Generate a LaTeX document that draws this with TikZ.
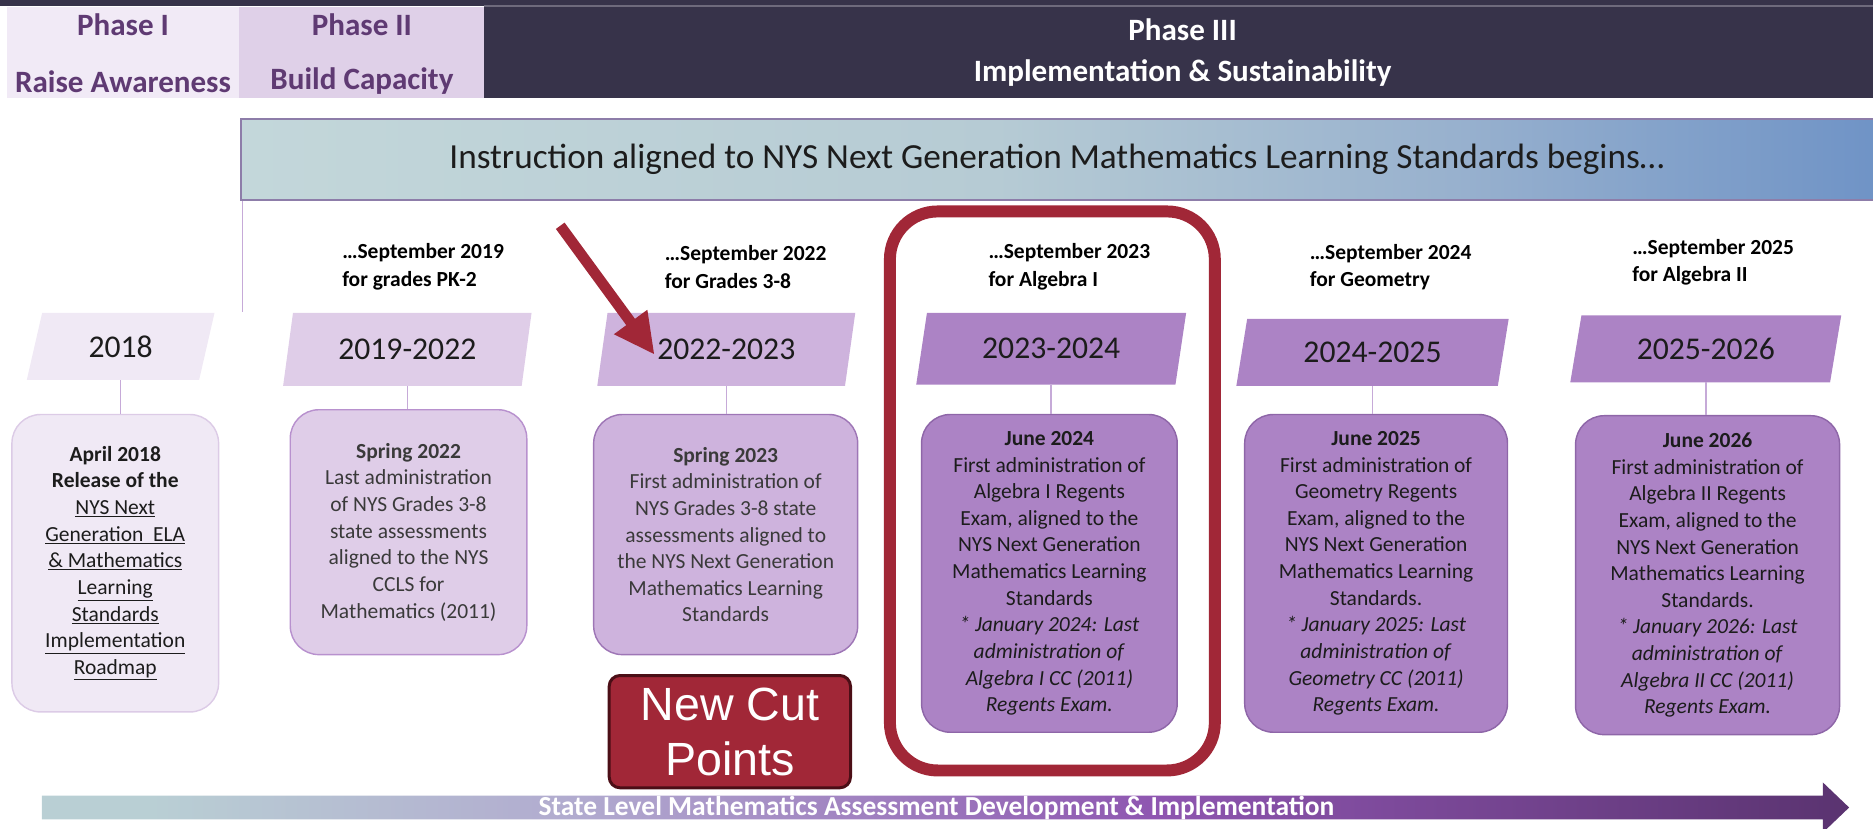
\documentclass[tikz,border=0pt]{standalone}
\usepackage{fontspec}
\setmainfont{Carlito}
\newfontfamily\cutfont{Liberation Sans}
\usetikzlibrary{shapes.geometric,arrows.meta}

\definecolor{hdrdark}{HTML}{37334A}
\definecolor{hdrline}{HTML}{6E6A7C}
\definecolor{phaseone}{HTML}{F1EAF6}
\definecolor{phasetwo}{HTML}{DFD0E8}
\definecolor{phasetxt}{HTML}{5F3A73}
\definecolor{instrA}{HTML}{C3D7DA}
\definecolor{instrB}{HTML}{B6CBD4}
\definecolor{instrM}{HTML}{98B1CE}
\definecolor{instrC}{HTML}{6F93C6}
\definecolor{instrline}{HTML}{8D7DA9}
\definecolor{yrA}{HTML}{F0E9F5}
\definecolor{yrB}{HTML}{DFCDE8}
\definecolor{yrC}{HTML}{CEB3DD}
\definecolor{yrD}{HTML}{AC83C5}
\definecolor{edgeA}{HTML}{DCCBE6}
\definecolor{edgeB}{HTML}{B891CE}
\definecolor{edgeC}{HTML}{9E76B6}
\definecolor{edgeD}{HTML}{8E66A8}
\definecolor{linkcol}{HTML}{C6AAD8}
\definecolor{cutred}{HTML}{A12737}
\definecolor{cutdark}{HTML}{4B0E16}
\definecolor{txtgrey}{HTML}{3A3A3A}
\definecolor{txtdark}{HTML}{1C1C1C}
\definecolor{barA}{HTML}{B9CFD4}
\definecolor{barB}{HTML}{B1AACF}
\definecolor{barC}{HTML}{8E55B0}
\definecolor{barD}{HTML}{5A3370}

\pgfdeclarehorizontalshading{instrshade}{100bp}{color(0bp)=(instrA); color(25bp)=(instrA); color(48bp)=(instrB); color(62bp)=(instrM); color(75bp)=(instrC); color(100bp)=(instrC)}
\pgfdeclarehorizontalshading{barshade}{100bp}{color(0bp)=(barA); color(28bp)=(barA); color(40bp)=(barB); color(56bp)=(barC); color(75bp)=(barD); color(100bp)=(barD)}

\begin{document}
\begin{tikzpicture}[x=1pt,y=-1pt,
    phasehd/.style={font=\bfseries\fontsize{26}{29}\selectfont},
    yearbox/.style={trapezium, trapezium left angle=74, trapezium right angle=106,
        trapezium stretches=true, inner sep=0pt, text=txtdark,
        font=\fontsize{26.5}{30}\selectfont},
    eventbox/.style={rounded corners=24pt, align=center, line width=1.2pt,
        inner sep=0pt, text=txtdark, font=\fontsize{18}{22.3}\selectfont},
    startlbl/.style={anchor=west, align=left, text=black,
        font=\bfseries\fontsize{18}{23}\selectfont},
    link/.style={linkcol, line width=1.3pt}]
    \useasboundingbox (0,0) rectangle (1568,694);

    % phases
    \fill[hdrdark] (0,0) rectangle (1568,5);
    \fill[hdrdark] (405,0) rectangle (1568,82);
    \draw[hdrline, line width=1pt] (405,5) -- (1568,5);
    \fill[phaseone] (6,6) rectangle (200,82);
    \fill[phasetwo] (200,6) rectangle (405,82);
    \node[phasehd, text=phasetxt] (ph1) at (103,21) {Phase I};
    \node[phasehd, text=phasetxt] (ph1b) at (103,68) {Raise Awareness};
    \node[phasehd, text=phasetxt] (ph2) at (303,21) {Phase II};
    \node[phasehd, text=phasetxt] (ph2b) at (303,68) {Build Capacity};
    \node[phasehd, text=white] (ph3) at (990,25) {Phase III};
    \node[phasehd, text=white] (ph3b) at (990,61) {Implementation \& Sustainability};

    % instruction bar
    \node[shade, shading=instrshade, draw=instrline, line width=1.5pt, anchor=north west,
        minimum width=1372pt, minimum height=68pt, inner sep=0pt, text=txtdark,
        font=\fontsize{29.5}{32}\selectfont] (instr) at (201,99)
        {\hspace*{-6pt}Instruction aligned to NYS Next Generation Mathematics Learning Standards begins…};
    \coordinate (tickend) at (203,261);
    \draw[link] (tickend |- instr.south) -- (tickend);

    % start of instruction
    \node[startlbl] (s2) at (283,223.5) {…September 2019\\for grades PK-2};
    \node[startlbl] (s3) at (553,223.5) {…September 2022\\for Grades 3-8};
    \node[startlbl] (s4) at (824,223.5) {…September 2023\\for Algebra I};
    \node[startlbl] (s5) at (1093,223.5) {…September 2024\\for Geometry};
    \node[startlbl] (s6) at (1363,219.5) {…September 2025\\for Algebra II};

    % school years
    \foreach \nm/\x/\y/\w/\h/\fc/\yr in {p1/101/290/158/56/yrA/2018,
        p2/341/292.5/208/61/yrB/2019-2022, p3/608/292.5/216/61/yrC/2022-2023,
        p4/880/292/226/60/yrD/2023-2024, p5/1149/295/228/56/yrD/2024-2025,
        p6/1428/292/227/56/yrD/2025-2026}
        \node[yearbox, fill=\fc, minimum width=\w pt, minimum height=\h pt] (\nm) at (\x,\y) {\yr};

    % events
    \node[eventbox, fill=yrA, draw=edgeA, minimum width=173pt, minimum height=249pt] (b1) at (96.5,471.5)
        {\textbf{April 2018}\\\textbf{Release of the}\\\underline{NYS Next}\\\underline{Generation\ \ ELA}\\
        \underline{\& Mathematics}\\\underline{Learning}\\\underline{Standards}\\\underline{Implementation}\\\underline{Roadmap}};
    \node[eventbox, fill=yrB, draw=edgeB, text=txtgrey, minimum width=198pt, minimum height=205pt] (b2) at (342,445.5)
        {\textbf{Spring 2022}\\Last administration\\of NYS Grades 3-8\\state assessments\\aligned to the NYS\\CCLS for\\Mathematics (2011)};
    \node[eventbox, fill=yrC, draw=edgeC, text=txtgrey, minimum width=221pt, minimum height=201pt] (b3) at (607.5,447.5)
        {\textbf{Spring 2023}\\First administration of\\NYS Grades 3-8 state\\assessments aligned to\\the NYS Next Generation\\Mathematics Learning\\Standards};
    \node[eventbox, fill=yrD, draw=edgeD, minimum width=214pt, minimum height=266pt] (b4) at (878.5,480)
        {\textbf{June 2024}\\First administration of\\Algebra I Regents\\Exam, aligned to the\\NYS Next Generation\\Mathematics Learning\\Standards\\
        \textit{* January 2024: Last}\\\textit{administration of}\\\textit{Algebra I CC (2011)}\\\textit{Regents Exam.}};
    \node[eventbox, fill=yrD, draw=edgeD, minimum width=220pt, minimum height=266pt] (b5) at (1152,480)
        {\textbf{June 2025}\\First administration of\\Geometry Regents\\Exam, aligned to the\\NYS Next Generation\\Mathematics Learning\\Standards.\\
        \textit{* January 2025: Last}\\\textit{administration of}\\\textit{Geometry CC (2011)}\\\textit{Regents Exam.}};
    \node[eventbox, fill=yrD, draw=edgeD, minimum width=221pt, minimum height=267pt] (b6) at (1429.5,481.5)
        {\textbf{June 2026}\\First administration of\\Algebra II Regents\\Exam, aligned to the\\NYS Next Generation\\Mathematics Learning\\Standards.\\
        \textit{* January 2026: Last}\\\textit{administration of}\\\textit{Algebra II CC (2011)}\\\textit{Regents Exam.}};

    \foreach \i in {1,...,6}
        \draw[link] (p\i.south) -- (p\i.south |- b\i.north);

    % highlight
    \node[draw=cutred, line width=10pt, rounded corners=40pt, minimum width=272pt,
        minimum height=468pt, inner sep=0pt] (focus) at (881,411) {};
    \coordinate (cuttail) at (469,189);
    \coordinate (cuttip) at (548,297);
    \draw[cutred, line width=9pt, -{Triangle[length=34pt,width=32pt]}] (cuttail) -- (cuttip);
    \node[fill=cutred, draw=cutdark, line width=2.5pt, rounded corners=9pt, minimum width=202pt,
        minimum height=94pt, inner sep=0pt, align=center, text=white,
        font=\cutfont\fontsize{39}{46}\selectfont] (cut) at (611,612.5) {New Cut\\Points};

    % state level arrow
    \shade[shading=barshade] (35,666) -- (1526,666) -- (1526,655) -- (1548,676)
        -- (1526,697) -- (1526,686) -- (35,686) -- cycle;
    \node[text=white, font=\bfseries\fontsize{23}{25}\selectfont] (statebar) at (784,676)
        {State Level Mathematics Assessment Development \& Implementation};
\end{tikzpicture}
\end{document}
